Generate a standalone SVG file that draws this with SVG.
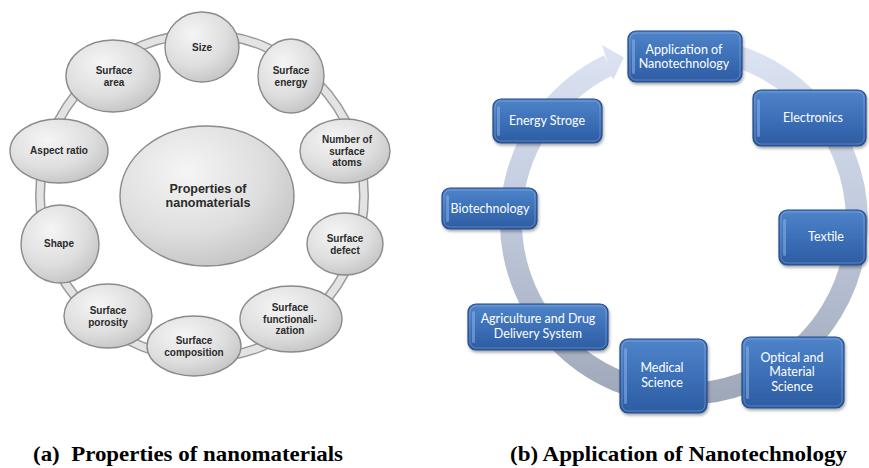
<svg xmlns="http://www.w3.org/2000/svg" width="869" height="468" viewBox="0 0 869 468">
  <style>
    .bubble { fill: url(#bubbleFill); stroke: #8a8a8a; stroke-width: 1.4; }
    .pn { font-family: "Liberation Sans", Arial, sans-serif; font-weight: bold; font-size: 10px; fill: #2b2b2b; text-anchor: middle; }
    .pn-big { font-size: 12.5px; }
    .box { fill: url(#boxFill); stroke: #234d8c; stroke-width: 1.2; filter: url(#shadow); }
    .box-hi { fill: none; stroke: #ffffff; stroke-opacity: 0.22; stroke-width: 1; }
    .bevel { fill: #8cb2e6; opacity: 0.55; }
    .ap { font-family: Lato, "Open Sans", sans-serif; font-size: 12.5px; fill: #ffffff; text-anchor: middle; }
    .caption { font-family: "Liberation Serif", "Times New Roman", serif; font-weight: bold; font-size: 21px; fill: #000000; }
  </style>
  <defs>
    <radialGradient id="bubbleFill" cx="0.38" cy="0.32" r="0.75">
      <stop offset="0" stop-color="#f5f5f5"/>
      <stop offset="0.6" stop-color="#dedede"/>
      <stop offset="1" stop-color="#c2c2c2"/>
    </radialGradient>
    <linearGradient id="boxFill" x1="0" y1="0" x2="0" y2="1">
      <stop offset="0" stop-color="#4f84ca"/>
      <stop offset="0.5" stop-color="#3c70b8"/>
      <stop offset="1" stop-color="#2d5ca2"/>
    </linearGradient>
    <linearGradient id="ringFill" gradientUnits="userSpaceOnUse" x1="0" y1="40" x2="0" y2="405">
      <stop offset="0" stop-color="#dde5f3"/>
      <stop offset="0.5" stop-color="#c0c9dc"/>
      <stop offset="1" stop-color="#9ea7b8"/>
    </linearGradient>
    <filter id="shadow" x="-10%" y="-10%" width="125%" height="130%">
      <feDropShadow dx="1" dy="2" stdDeviation="1.5" flood-color="#000000" flood-opacity="0.35"/>
    </filter>
  </defs>

  <rect width="869" height="468" fill="#ffffff"/>

  <!-- (a) properties: connecting ring -->
  <g id="connectors-a">
    <circle cx="202" cy="196" r="162" fill="none" stroke="#9a9a9a" stroke-width="10"/>
    <circle cx="202" cy="196" r="162" fill="none" stroke="#e3e3e3" stroke-width="7"/>
  </g>

  <g id="node-center">
    <ellipse class="bubble" cx="207" cy="196" rx="87" ry="70"/>
    <text class="pn pn-big" x="208" y="193">Properties of</text>
    <text class="pn pn-big" x="208" y="207">nanomaterials</text>
  </g>
  <g id="node-size">
    <ellipse class="bubble" cx="202" cy="47" rx="37" ry="35"/>
    <text class="pn" x="202" y="51">Size</text>
  </g>
  <g id="node-surface-area">
    <ellipse class="bubble" cx="113" cy="76" rx="47" ry="36"/>
    <text class="pn" x="114" y="74">Surface</text>
    <text class="pn" x="114" y="85.5">area</text>
  </g>
  <g id="node-surface-energy">
    <ellipse class="bubble" cx="291" cy="76" rx="33" ry="37"/>
    <text class="pn" x="291" y="74">Surface</text>
    <text class="pn" x="291" y="85.5">energy</text>
  </g>
  <g id="node-aspect-ratio">
    <ellipse class="bubble" cx="59" cy="151" rx="49" ry="32"/>
    <text class="pn" x="59" y="154">Aspect ratio</text>
  </g>
  <g id="node-surface-atoms">
    <ellipse class="bubble" cx="345" cy="151" rx="45" ry="32"/>
    <text class="pn" x="347" y="143">Number of</text>
    <text class="pn" x="347" y="154.5">surface</text>
    <text class="pn" x="347" y="166">atoms</text>
  </g>
  <g id="node-shape">
    <ellipse class="bubble" cx="60" cy="244" rx="39" ry="39"/>
    <text class="pn" x="59" y="247">Shape</text>
  </g>
  <g id="node-surface-defect">
    <ellipse class="bubble" cx="345" cy="244" rx="38" ry="31"/>
    <text class="pn" x="345" y="242">Surface</text>
    <text class="pn" x="345" y="253.5">defect</text>
  </g>
  <g id="node-surface-porosity">
    <ellipse class="bubble" cx="108" cy="316" rx="44" ry="32"/>
    <text class="pn" x="108" y="314">Surface</text>
    <text class="pn" x="108" y="326">porosity</text>
  </g>
  <g id="node-surface-composition">
    <ellipse class="bubble" cx="194" cy="346" rx="47" ry="30"/>
    <text class="pn" x="194" y="344">Surface</text>
    <text class="pn" x="194" y="356">composition</text>
  </g>
  <g id="node-surface-functionalization">
    <ellipse class="bubble" cx="291" cy="319" rx="51" ry="33"/>
    <text class="pn" x="290" y="311">Surface</text>
    <text class="pn" x="290" y="322.5">functionali-</text>
    <text class="pn" x="290" y="334">zation</text>
  </g>

  <!-- (b) applications: circular arrow -->
  <g id="connectors-b">
    <path d="M 728.8 53.9 A 173 173 0 1 1 608.7 65.2" fill="none" stroke="url(#ringFill)" stroke-width="22"/>
    <polygon points="602,45 624,57.5 613,80" fill="url(#ringFill)"/>
  </g>

  <g id="node-application">
    <rect class="box" x="628" y="31" width="114" height="51" rx="8"/>
    <rect class="box-hi" x="630" y="33" width="110" height="47" rx="6"/>
    <rect class="bevel" x="632" y="39" width="3" height="35" rx="1.5"/>
    <text class="ap" x="684" y="54">Application of</text>
    <text class="ap" x="684" y="68">Nanotechnology</text>
  </g>
  <g id="node-electronics">
    <rect class="box" x="753" y="90" width="113" height="56" rx="8"/>
    <rect class="box-hi" x="755" y="92" width="109" height="52" rx="6"/>
    <rect class="bevel" x="757" y="99" width="3" height="38" rx="1.5"/>
    <text class="ap" x="813" y="122">Electronics</text>
  </g>
  <g id="node-textile">
    <rect class="box" x="779" y="210" width="87" height="55" rx="8"/>
    <rect class="box-hi" x="781" y="212" width="83" height="51" rx="6"/>
    <rect class="bevel" x="783" y="219" width="3" height="37" rx="1.5"/>
    <text class="ap" x="826" y="241">Textile</text>
  </g>
  <g id="node-optical">
    <rect class="box" x="742" y="337" width="102" height="71" rx="8"/>
    <rect class="box-hi" x="744" y="339" width="98" height="67" rx="6"/>
    <rect class="bevel" x="746" y="346" width="3" height="53" rx="1.5"/>
    <text class="ap" x="792" y="362">Optical and</text>
    <text class="ap" x="792" y="376">Material</text>
    <text class="ap" x="792" y="391">Science</text>
  </g>
  <g id="node-medical">
    <rect class="box" x="620" y="339" width="87" height="74" rx="8"/>
    <rect class="box-hi" x="622" y="341" width="83" height="70" rx="6"/>
    <rect class="bevel" x="624" y="348" width="3" height="56" rx="1.5"/>
    <text class="ap" x="662" y="372">Medical</text>
    <text class="ap" x="662" y="387">Science</text>
  </g>
  <g id="node-agriculture">
    <rect class="box" x="468" y="304" width="140" height="46" rx="8"/>
    <rect class="box-hi" x="470" y="306" width="136" height="42" rx="6"/>
    <rect class="bevel" x="472" y="311" width="3" height="32" rx="1.5"/>
    <text class="ap" x="538" y="323">Agriculture and Drug</text>
    <text class="ap" x="538" y="338">Delivery System</text>
  </g>
  <g id="node-biotechnology">
    <rect class="box" x="442" y="188" width="95" height="41" rx="8"/>
    <rect class="box-hi" x="444" y="190" width="91" height="37" rx="6"/>
    <rect class="bevel" x="446" y="195" width="3" height="27" rx="1.5"/>
    <text class="ap" x="490" y="213">Biotechnology</text>
  </g>
  <g id="node-energy">
    <rect class="box" x="493" y="99" width="109" height="44" rx="8"/>
    <rect class="box-hi" x="495" y="101" width="105" height="40" rx="6"/>
    <rect class="bevel" x="497" y="106" width="3" height="30" rx="1.5"/>
    <text class="ap" x="547" y="125">Energy Stroge</text>
  </g>

  <!-- captions -->
  <text class="caption" x="33" y="461" xml:space="preserve" textLength="310" lengthAdjust="spacingAndGlyphs">(a)  Properties of nanomaterials</text>
  <text class="caption" x="510" y="461" textLength="337" lengthAdjust="spacingAndGlyphs">(b) Application of Nanotechnology</text>
</svg>
